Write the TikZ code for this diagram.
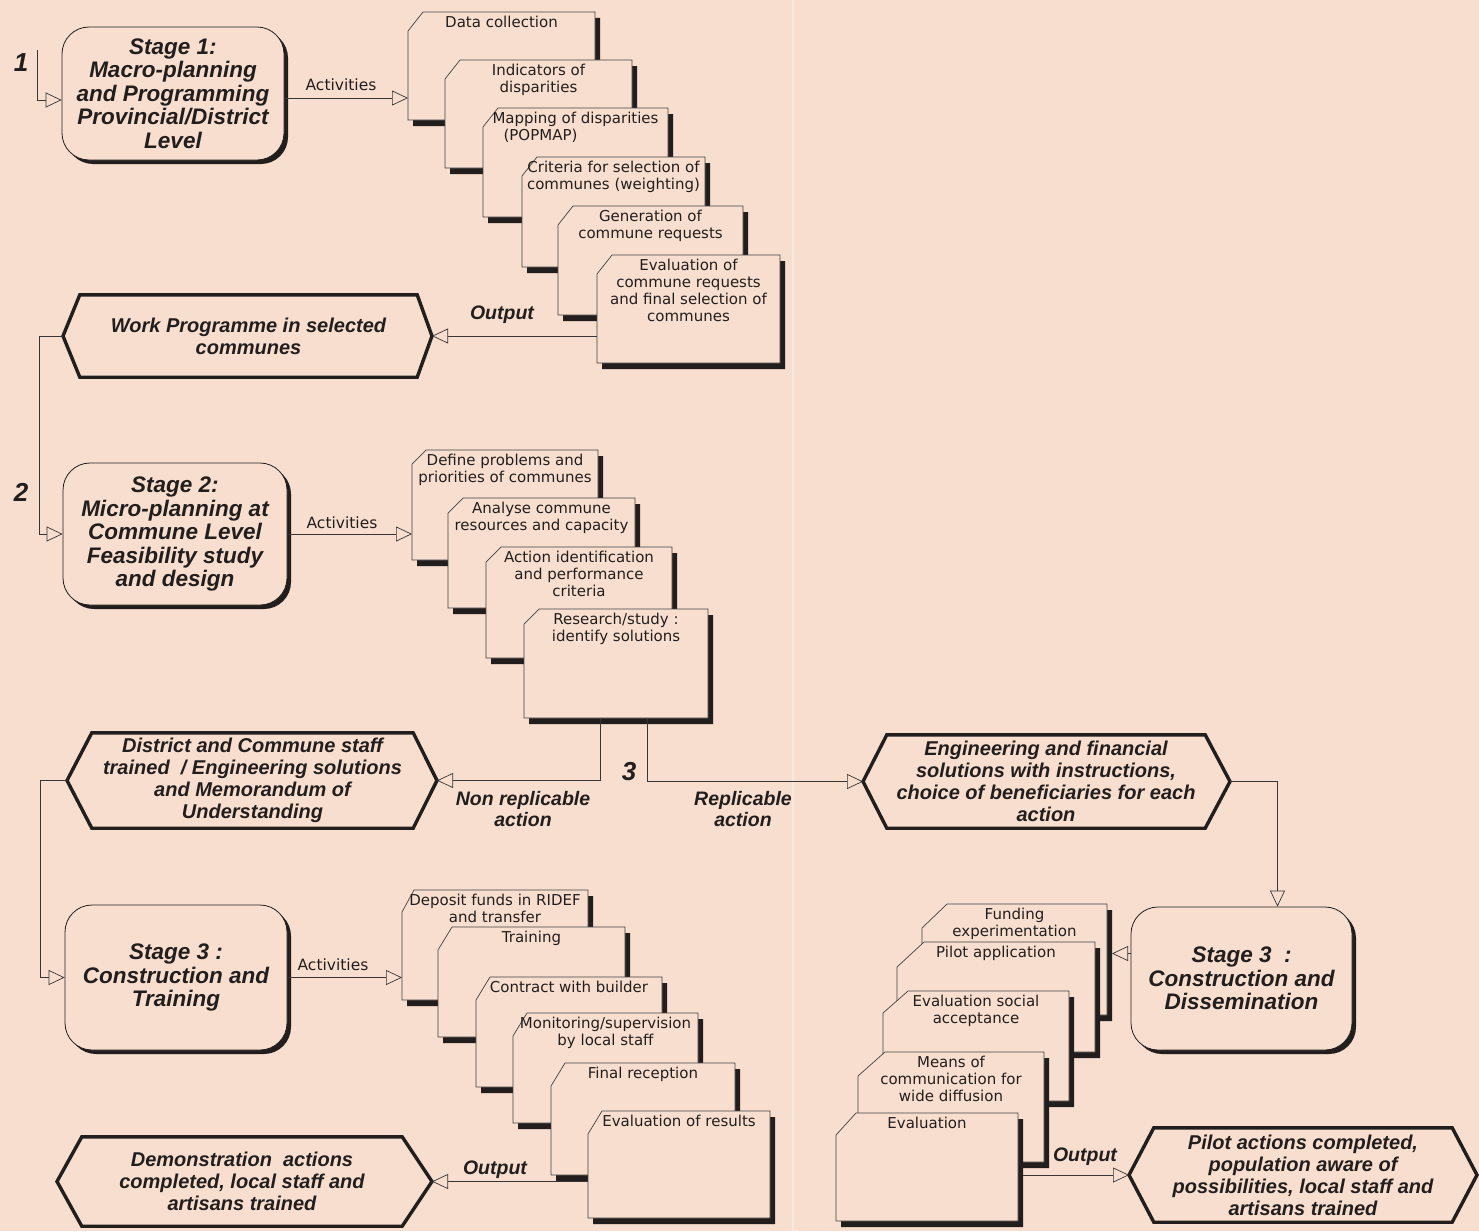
\documentclass[tikz,border=0pt]{standalone}
\usepackage{fontspec}
\setmainfont{Liberation Sans}
\newfontfamily\actfont{DejaVu Sans}
\usetikzlibrary{arrows.meta,shadows,calc}
\definecolor{bgc}{RGB}{247,222,206}
\definecolor{ink}{RGB}{35,30,30}
\newcommand\actbox[8]{%
  \node[boxanchor, minimum width=#4pt, minimum height=#5pt, anchor=north west] (#1) at (#2,#3) {};
  \fill[shadowfill] ({#2+#6+5},{#3+6}) -- ({#2+#4+5},{#3+6}) -- ({#2+#4+5},{#3+#5+6}) -- ({#2+5},{#3+#5+6}) -- ({#2+5},{#3+#7+6}) -- cycle;
  \filldraw[boxline] ({#2+#6},#3) -- ({#2+#4},#3) -- ({#2+#4},{#3+#5}) -- (#2,{#3+#5}) -- (#2,{#3+#7}) -- cycle;
  \node[acttext, anchor=north] (#1-t) at (#1.north) {#8};
}
\newcommand\hexa[8]{%
  \node[hextext, minimum width={(#4-#3)*1pt}, minimum height={(#7-#6)*1pt}] (#1) at ({(#3+#4)/2},{(#6+#7)/2}) {#8};
  \coordinate (#1-l) at (#2,{(#6+#7)/2});
  \coordinate (#1-r) at (#5,{(#6+#7)/2});
  \draw[hexline] (#1.north west) -- (#1.north east) -- (#1-r) -- (#1.south east) -- (#1.south west) -- (#1-l) -- cycle;
}
\begin{document}
\begin{tikzpicture}[x=1pt,y=-1pt,
  boxanchor/.style={rectangle, draw=none, inner sep=0pt, outer sep=0pt},
  shadowfill/.style={fill=ink},
  boxline/.style={draw=ink!85, line width=0.7pt, fill=bgc, line join=miter},
  acttext/.style={font=\actfont\fontsize{15}{17}\selectfont, align=center, inner xsep=0pt, inner ysep=4pt, text=ink},
  hextext/.style={rectangle, draw=none, inner sep=0pt, align=center, text=ink, font=\fontsize{20}{22}\selectfont\bfseries\itshape},
  hexline/.style={draw=ink, line width=3.4pt, line join=miter},
  stage/.style={rectangle, draw=ink, line width=0.8pt, fill=bgc, rounded corners=27pt, inner sep=0pt, align=center, text=ink,
    font=\fontsize{22.5}{23.5}\selectfont\bfseries\itshape,
    drop shadow={opacity=1, fill=ink, shadow xshift=4pt, shadow yshift=-4pt}},
  num/.style={font=\fontsize{26}{26}\selectfont\bfseries\itshape, text=ink, inner sep=0pt},
  lab/.style={font=\actfont\fontsize{15.5}{17}\selectfont, text=ink, inner sep=0pt},
  outl/.style={font=\fontsize{19.5}{21}\selectfont\bfseries\itshape, text=ink, align=center, inner sep=0pt},
  conn/.style={draw=ink!90, line width=0.7pt},
  arr/.style={conn, -{Triangle[open, length=16pt, width=15pt, line width=0.7pt]}},
  fold/.style={draw=white!30!bgc, line width=1.3pt}
]
\fill[bgc] (0,0) rectangle (1479,1231);
\useasboundingbox (0,0) rectangle (1479,1231);
\draw[fold] (793,0) -- (793,1231);

% stage boxes
\node[stage, minimum width=222pt, minimum height=133pt] (s1) at (173,93.5) {Stage 1:\\Macro-planning\\and Programming\\Provincial/District\\Level};
\node[stage, minimum width=224pt, minimum height=142pt] (s2) at (175,534) {Stage 2:\\Micro-planning at\\Commune Level\\Feasibility study\\and design};
\node[stage, minimum width=222pt, minimum height=145pt] (s3) at (176,977.5) {Stage 3 :\\Construction and\\Training};
\node[stage, minimum width=221pt, minimum height=143pt] (s3r) at (1241.5,978.5) {Stage 3\ \ :\\Construction and\\Dissemination};

% numbers
\node[num] (n1) at (21,63) {1};
\node[num] (n2) at (21,492) {2};
\node[num] (n3) at (629,772) {3};

% stage 1 activities
\actbox{a11}{408}{12}{187}{108}{15}{19}{Data collection}
\actbox{a12}{445}{60}{187}{108}{15}{19}{Indicators of\\disparities}
\actbox{a13}{483}{108}{185}{109}{15}{19}{Mapping of disparities\\(POPMAP)\hspace*{70pt}}
\actbox{a14}{522}{157}{183}{110}{15}{19}{Criteria for selection of\\communes (weighting)}
\actbox{a15}{558}{206}{185}{109}{15}{19}{Generation of\\commune requests}
\actbox{a16}{597}{255}{183}{108}{15}{19}{Evaluation of\\commune requests\\and final selection of\\communes}

% stage 2 activities
\actbox{a21}{412}{450}{186}{110}{14}{14}{Define problems and\\priorities of communes}
\actbox{a22}{448}{498}{187}{110}{15}{15}{Analyse commune\\resources and capacity}
\actbox{a23}{486}{547}{186}{111}{15}{15}{Action identification\\and performance\\criteria}
\actbox{a24}{524}{609}{184}{109}{15}{15}{Research/study :\\identify solutions}

% stage 3 activities (left)
\actbox{b1}{402}{890}{186}{110}{12}{22}{Deposit funds in RIDEF\\and transfer}
\actbox{b2}{438}{927}{187}{110}{14}{23}{Training}
\actbox{b3}{476}{977}{186}{110}{14}{23}{Contract with builder}
\actbox{b4}{513}{1013}{185}{110}{14}{23}{Monitoring/supervision\\by local staff}
\actbox{b5}{551}{1063}{184}{112}{14}{23}{Final reception}
\actbox{b6}{588}{1111}{182}{107}{14}{23}{Evaluation of results}

% stage 3 activities (right)
\actbox{r1}{922}{904}{185}{111}{25}{24}{Funding\\experimentation}
\actbox{r2}{897}{942}{198}{110}{27}{25}{Pilot application}
\actbox{r3}{883}{991}{186}{110}{25}{22}{Evaluation social\\acceptance}
\actbox{r4}{858}{1052}{186}{110}{27}{24}{Means of\\communication for\\wide diffusion}
\actbox{r5}{836}{1113}{182}{108}{20}{22}{Evaluation}

% output hexagons
\hexa{h1}{63}{80}{417}{432}{295}{377}{Work Programme in selected\\communes}
\hexa{h2}{67}{92}{413}{437}{733}{828}{District and Commune staff\\trained\ \ / Engineering solutions\\and Memorandum of\\Understanding}
\hexa{h3}{57}{82}{402}{432}{1137}{1226}{Demonstration\ \ actions\\completed, local staff and\\artisans trained}
\hexa{h4}{863}{887}{1205}{1230}{735}{828}{Engineering and financial\\solutions with instructions,\\choice of beneficiaries for each\\action}
\hexa{h5}{1129}{1154}{1452}{1477}{1128}{1222}{Pilot actions completed,\\population aware of\\possibilities, local staff and\\artisans trained}

% labels
\node[lab] (l1) at (341,85) {Activities};
\node[lab] (l2) at (342,523) {Activities};
\node[lab] (l3) at (333,965) {Activities};
\node[outl] (o1) at (502,315) {Output};
\node[outl] (o3) at (495,1170) {Output};
\node[outl] (o5) at (1085,1157) {Output};
\node[outl] (nr) at (523,809) {Non replicable\\action};
\node[outl] (rp) at (743,809) {Replicable\\action};

% connectors
\coordinate (c1) at (37,50);
\draw[arr] (c1) |- ([yshift=-6.5pt]s1.west);
\draw[arr] ([yshift=-4.5pt]s1.east) -- ([yshift=-4.5pt]s1.east -| a11.west);
\draw[arr] (a16.west |- h1-r) -- (h1-r);
\draw[arr] (h1-l) -- ++(-24,0) |- (s2.west);
\draw[arr] (s2.east) -- (s2.east -| a21.west);
\draw[arr] ([xshift=76pt]a24.south west) |- (h2-r);
\draw[arr] ([xshift=123pt]a24.south west) |- (h4-l);
\draw[arr] (h2-l) -- ++(-27,0) |- (s3.west);
\draw[arr] (s3.east) -- (s3.east -| b1.west);
\draw[arr] (b6.west |- h3-r) -- (h3-r);
\draw[arr] (h4-r) -| ([xshift=36pt]s3r.north);
\coordinate (r1s) at ([xshift=5pt]r1.east);
\draw[arr] ([yshift=25pt]s3r.west) -- ([yshift=25pt]s3r.west -| r1s);
\coordinate (r5s) at ([xshift=5pt]r5.east);
\draw[arr] (r5s |- h5-l) -- (h5-l);
\end{tikzpicture}
\end{document}
